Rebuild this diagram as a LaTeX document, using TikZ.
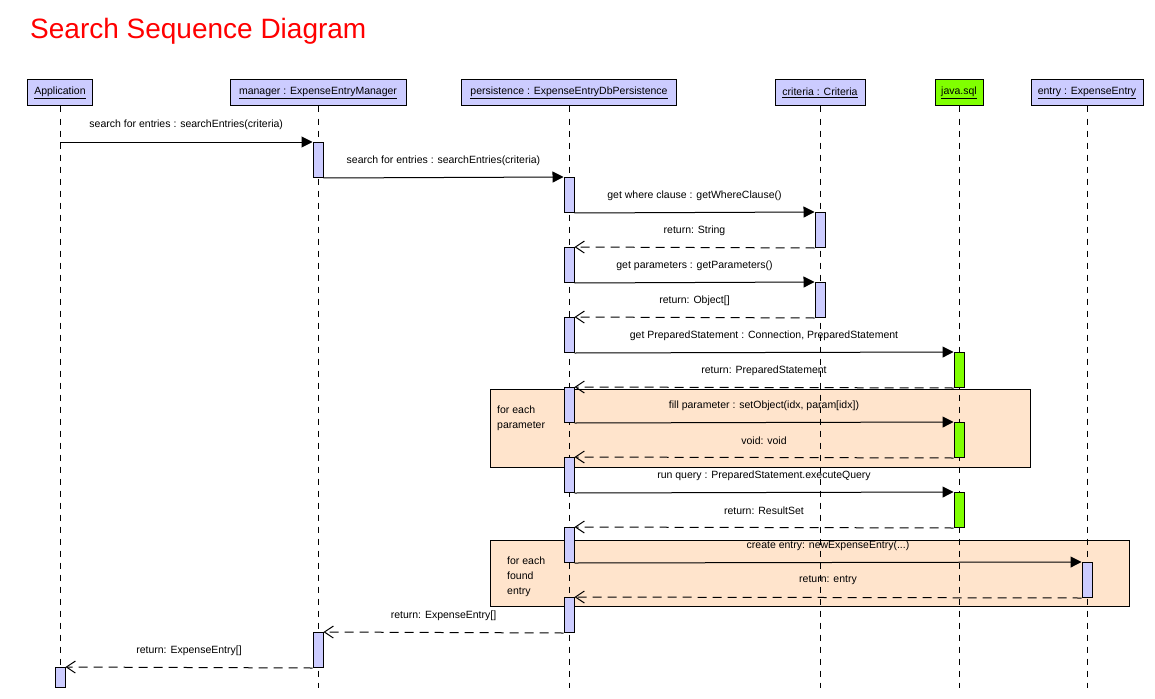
\documentclass[tikz,border=0pt]{standalone}
\usepackage{fontspec}
\setmainfont{Liberation Sans}
\usetikzlibrary{arrows.meta}
\definecolor{actfill}{RGB}{204,204,255}
\definecolor{sqlgreen}{RGB}{128,255,0}
\definecolor{loopfill}{RGB}{255,228,204}
\definecolor{titlered}{RGB}{255,0,0}
\begin{document}
\begin{tikzpicture}[x=1pt,y=-1pt,
  font=\fontsize{10.5}{12}\selectfont,
  head/.style={draw, line width=1pt, fill=actfill, minimum height=26pt, inner sep=0pt, minimum width=#1},
  sqlhead/.style={head=#1, fill=sqlgreen},
  act/.style={draw, fill=actfill, line width=1pt, minimum width=10pt, minimum height=35pt, inner sep=0pt, anchor=north},
  sqlact/.style={act, fill=sqlgreen},
  life/.style={dash pattern=on 6pt off 6pt, line width=1pt},
  call/.style={-{Triangle[length=11pt,width=11pt]}, line width=1pt},
  ret/.style={-{Straight Barb[length=9pt,width=12pt]}, dash pattern=on 9pt off 6pt, line width=1pt},
  lbl/.style={midway, yshift=17pt, inner sep=0pt},
  loopbox/.style={draw, fill=loopfill, line width=1pt, anchor=north west, inner sep=0pt},
  looplbl/.style={anchor=north west, align=left, inner sep=0pt, font=\fontsize{10.5}{15}\selectfont}
]
\useasboundingbox (0,0) rectangle (1155,698);

% title
\node[anchor=base west, inner sep=0pt, text=titlered, font=\fontsize{28}{30}\selectfont] (title) at (30,39) {Search Sequence Diagram};

% combined fragments
\node[loopbox, minimum width=540pt, minimum height=78pt] (loop1) at (490,389) {};
\node[looplbl] (loop1lbl) at (497,406) {for each\\parameter};
\node[loopbox, minimum width=639pt, minimum height=66pt] (loop2) at (490,540) {};
\node[looplbl] (loop2lbl) at (507,557) {for each\\found\\entry};

% headers
\node[head=65pt] (app) at (60,93) {\underline{Application}};
\node[head=176pt] (man) at (318,93) {\underline{manager : ExpenseEntryManager}};
\node[head=215pt] (per) at (569,93) {\underline{persistence : ExpenseEntryDbPersistence}};
\node[head=90pt] (cri) at (820,93) {\underline{criteria : Criteria}};
\node[sqlhead=48pt] (sql) at (959,93) {\underline{java.sql}};
\node[head=112pt] (ent) at (1087,93) {\underline{entry : ExpenseEntry}};

% lifeline ends
\coordinate (append) at (60,688);
\coordinate (manend) at (318,688);
\coordinate (perend) at (569,688);
\coordinate (criend) at (820,688);
\coordinate (sqlend) at (959,688);
\coordinate (entend) at (1087,688);
\draw[life] (app.south) -- (append);
\draw[life] (man.south) -- (manend);
\draw[life] (per.south) -- (perend);
\draw[life] (cri.south) -- (criend);
\draw[life] (sql.south) -- (sqlend);
\draw[life] (ent.south) -- (entend);

% activations
\node[act] (m1) at (318,142) {};
\node[act] (p1) at (569,177) {};
\node[act] (c1) at (820,212) {};
\node[act] (p2) at (569,247) {};
\node[act] (c2) at (820,282) {};
\node[act] (p3) at (569,317) {};
\node[sqlact] (s1) at (959,352) {};
\node[act] (p4) at (569,387) {};
\node[sqlact] (s2) at (959,422) {};
\node[act] (p5) at (569,457) {};
\node[sqlact] (s3) at (959,492) {};
\node[act] (p6) at (569,527) {};
\node[act] (e1) at (1087,562) {};
\node[act] (p7) at (569,597) {};
\node[act] (m2) at (318,632) {};
\node[act, minimum height=20pt] (a1) at (60,667) {};

\coordinate (appstart) at (60,142);

% messages
\draw[call] (appstart) -- (m1.north west) node[lbl] {search for entries : searchEntries(criteria)};
\draw[call] (m1.south east) -- (p1.north west) node[lbl] {search for entries : searchEntries(criteria)};
\draw[call] (p1.south east) -- (c1.north west) node[lbl] {get where clause : getWhereClause()};
\draw[ret] (c1.south west) -- (p2.north east) node[lbl] {return: String};
\draw[call] (p2.south east) -- (c2.north west) node[lbl] {get parameters : getParameters()};
\draw[ret] (c2.south west) -- (p3.north east) node[lbl] {return: Object[]};
\draw[call] (p3.south east) -- (s1.north west) node[lbl] {get PreparedStatement : Connection, PreparedStatement};
\draw[ret] (s1.south west) -- (p4.north east) node[lbl] {return: PreparedStatement};
\draw[call] (p4.south east) -- (s2.north west) node[lbl] {fill parameter : setObject(idx, param[idx])};
\draw[ret] (s2.south west) -- (p5.north east) node[lbl] {void: void};
\draw[call] (p5.south east) -- (s3.north west) node[lbl] {run query : PreparedStatement.executeQuery};
\draw[ret] (s3.south west) -- (p6.north east) node[lbl] {return: ResultSet};
\draw[call] (p6.south east) -- (e1.north west) node[lbl] {create entry: newExpenseEntry(...)};
\draw[ret] (e1.south west) -- (p7.north east) node[lbl] {return: entry};
\draw[ret] (p7.south west) -- (m2.north east) node[lbl] {return: ExpenseEntry[]};
\draw[ret] (m2.south west) -- (a1.north east) node[lbl] {return: ExpenseEntry[]};
\end{tikzpicture}
\end{document}
